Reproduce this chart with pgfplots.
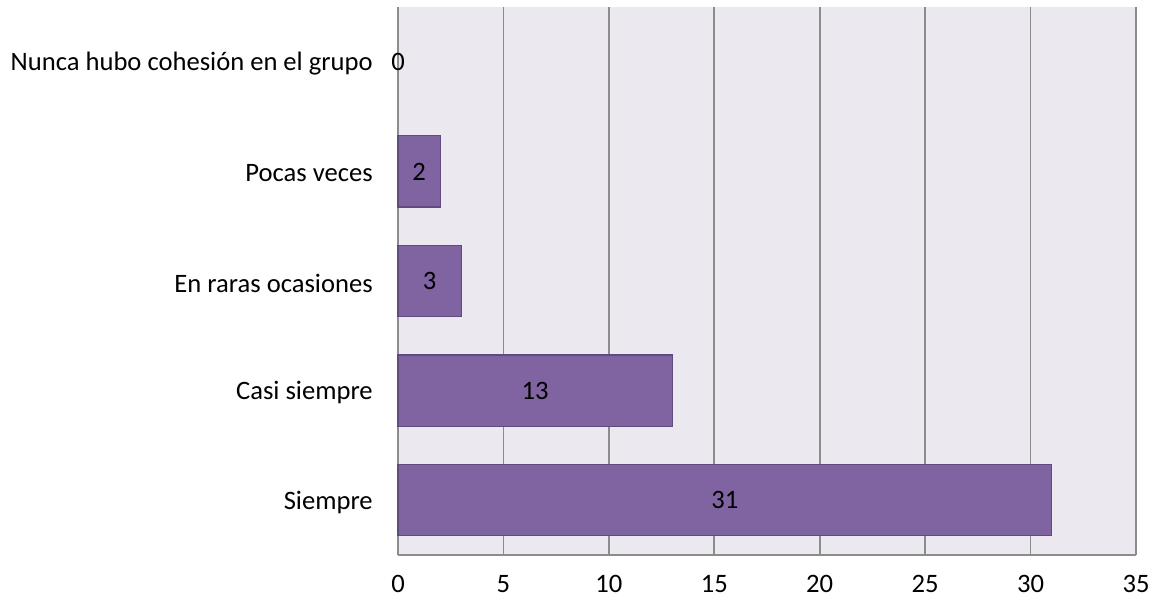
\documentclass[border=0pt]{standalone}
\usepackage{pgfplots}
\usepackage{pgfplotstable}
\usepackage{fontspec}
\setmainfont{Carlito}
\pgfplotsset{compat=1.18}

\definecolor{barfill}{HTML}{8064A2}
\definecolor{baredge}{HTML}{5F4B7E}
\definecolor{plotbg}{HTML}{EBE9EF}
\definecolor{gridc}{HTML}{8C8C8C}

\pgfplotstableread{
pos value
0 31
1 13
2 3
3 2
4 0
}\datos

\begin{document}
\fontsize{13.3}{16}\selectfont
\begin{tikzpicture}
\path[use as bounding box] (-199pt,-25pt) rectangle (379pt,277.5pt);
\begin{axis}[
    scale only axis,
    width=369pt, height=274pt,
    xmin=0, xmax=35,
    ymin=-0.5, ymax=4.5,
    xtick={0,5,...,35},
    ytick={0,1,2,3,4},
    yticklabels={Siempre, Casi siempre, En raras ocasiones, Pocas veces, Nunca hubo cohesión en el grupo},
    major tick length=0pt,
    axis x line*=bottom, axis y line*=left,
    axis line style={gridc, line width=0.9pt, -},
    axis background/.style={fill=plotbg},
    xmajorgrids, grid style={gridc, line width=0.9pt},
    x tick label style={font=\fontsize{13.3}{16}\selectfont, yshift=-5.5pt},
    y tick label style={font=\fontsize{13.3}{16}\selectfont, xshift=-8pt, yshift=-1pt},
    /pgf/number format/assume math mode=true,
    clip=false,
]
% la barra de valor 0 no se dibuja
\addplot[xbar, bar width=0.65, bar shift=0pt, fill=barfill, draw=baredge, line width=0.6pt,
    x filter/.expression={x==0 ? nan : x}]
    table[x=value, y=pos] {\datos};
\addplot[only marks, mark=none, x filter/.expression={x/2},
    point meta=\thisrow{value},
    nodes near coords, nodes near coords align=center,
    every node near coord/.append style={font=\fontsize{13.3}{16}\selectfont, black, anchor=center}]
    table[x=value, y=pos] {\datos};
\end{axis}
\end{tikzpicture}
\end{document}
